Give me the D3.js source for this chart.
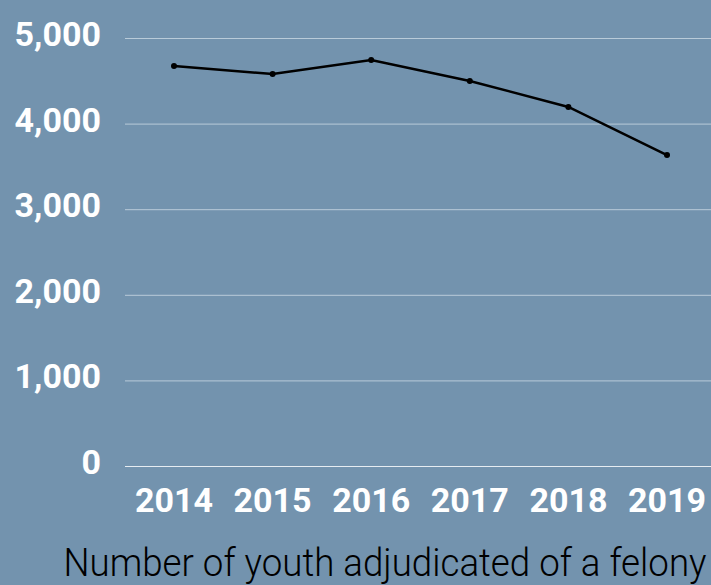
<!DOCTYPE html>
<html><head><meta charset="utf-8">
<script src="https://cdn.jsdelivr.net/npm/d3@7"></script>
<style>html,body{margin:0;padding:0;background:#7393ae;}svg{display:block;}</style>
</head><body>
<svg id="c" width="711" height="585"></svg>
<script>
const years = ["2014","2015","2016","2017","2018","2019"];
const values = [4673, 4579, 4743, 4498, 4194, 3633];
const yTicks = [0, 1000, 2000, 3000, 4000, 5000];
const title = "Number of youth adjudicated of a felony";

const svg = d3.select("#c");
svg.append("rect").attr("width",711).attr("height",585).attr("fill","#7393ae");
const x = d3.scalePoint().domain(years).range([174, 667]);
const y = d3.scaleLinear().domain([0,5000]).range([466, 38]);

const grid = svg.append("g");
grid.selectAll("line").data(yTicks).join("line")
  .attr("x1",125).attr("x2",711)
  .attr("y1",d=>y(d)+0.5).attr("y2",d=>y(d)+0.5)
  .attr("stroke", d=> d===0 ? "#e6ecf1" : "#b9cbd9").attr("stroke-width",1);

const fmt = d3.format(",");
svg.append("g").selectAll("text").data(yTicks).join("text")
  .attr("x",101).attr("y",d=>y(d)+8)
  .attr("text-anchor","end")
  .attr("font-family","Roboto").attr("font-weight",700).attr("font-size",34)
  .attr("fill","#ffffff").text(d=>fmt(d));

svg.append("g").selectAll("text").data(years).join("text")
  .attr("x",d=>x(d)).attr("y",512)
  .attr("text-anchor","middle")
  .attr("font-family","Roboto").attr("font-weight",700).attr("font-size",34)
  .attr("fill","#ffffff").text(d=>d);

const line = d3.line().x((d,i)=>x(years[i])).y(d=>y(d));
svg.append("path").datum(values).attr("d",line)
  .attr("fill","none").attr("stroke","#000").attr("stroke-width",2.5);
svg.append("g").selectAll("circle").data(values).join("circle")
  .attr("cx",(d,i)=>x(years[i])).attr("cy",d=>y(d)).attr("r",3).attr("fill","#000");

svg.append("text").attr("x",385).attr("y",576).attr("text-anchor","middle")
  .attr("font-family","Roboto").attr("font-weight",300).attr("font-size",39)
  .attr("textLength",643).attr("lengthAdjust","spacingAndGlyphs")
  .attr("fill","#000").text(title);
</script>
</body></html>
